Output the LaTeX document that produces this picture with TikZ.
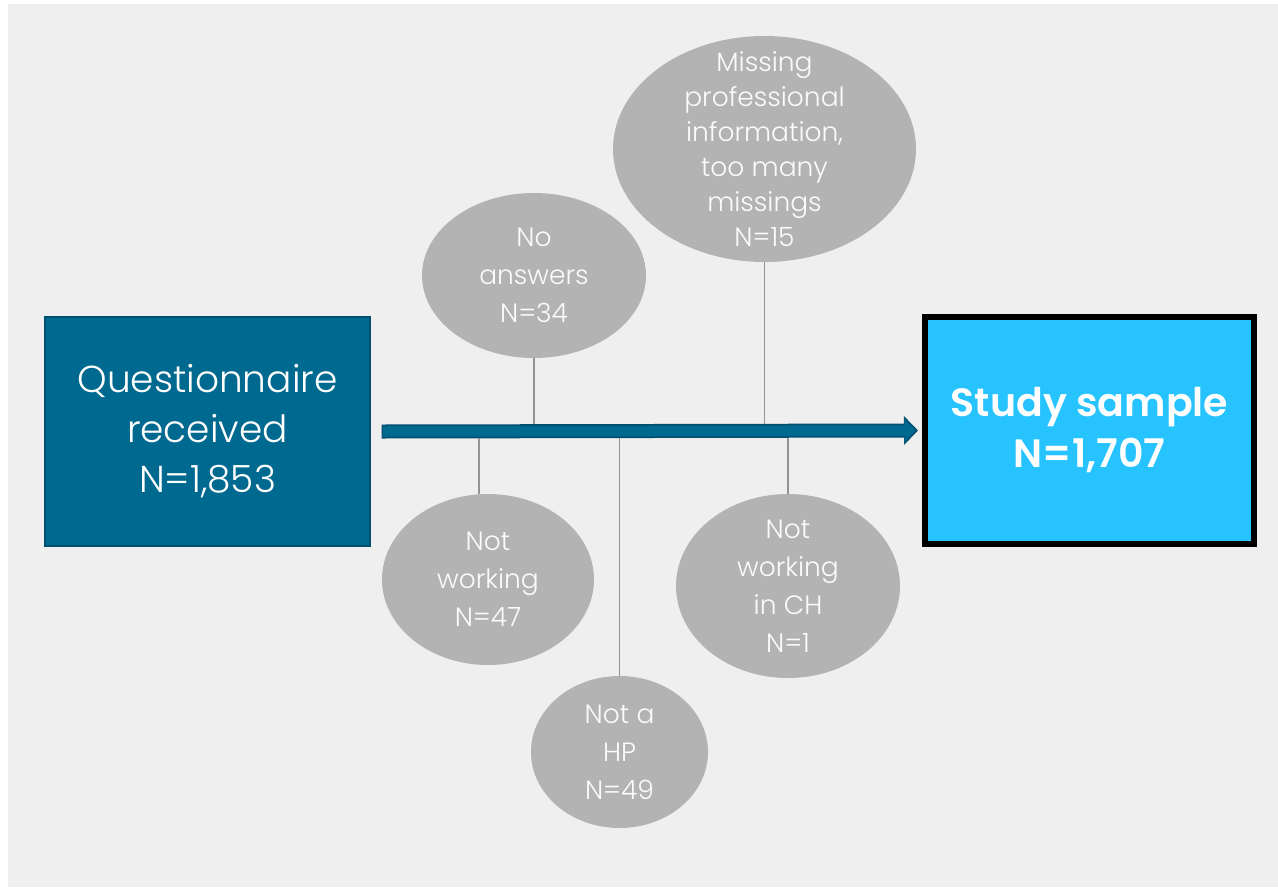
\documentclass[tikz,border=0pt]{standalone}
\usepackage{fontspec}
\setmainfont{Poppins}[UprightFont=* Light,BoldFont=* SemiBold]
\usetikzlibrary{shapes.geometric,arrows.meta}
\definecolor{bggray}{HTML}{EFEFEF}
\definecolor{qblue}{HTML}{00698F}
\definecolor{qdark}{HTML}{004F70}
\definecolor{sblue}{HTML}{27C3FF}
\definecolor{exgray}{HTML}{B3B3B3}
\definecolor{stemgray}{HTML}{939393}
\tikzset{
  exclusion/.style={ellipse,fill=exgray,inner sep=0pt},
  extext/.style={align=center,text=white!97!gray,inner sep=0pt,font=\fontsize{26.5}{38}\selectfont},
  stem/.style={stemgray,line width=1.6pt}
}
\begin{document}
\begin{tikzpicture}[x=1pt,y=-1pt]
\useasboundingbox (0,0) rectangle (1278,887);
\fill[white] (0,0) rectangle (1278,887);
\fill[bggray] (8,4) rectangle (1278,887);
\node[fill=qblue,draw=qdark,line width=1.2pt,minimum width=325pt,minimum height=229pt,align=center,
  text=white,font=\fontsize{37.5}{50}\selectfont] (qrec) at (207.5,431.5) {Questionnaire\\received\\N=1,853};
\node[fill=sblue,draw=black,line width=6pt,minimum width=329pt,minimum height=227pt,align=center,
  text=white,font=\fontsize{39.5}{51}\selectfont\bfseries] (sample) at (1089.5,430.5) {Study sample\\N=1,707};
\draw[qdark,line width=14pt,-{Triangle[length=14pt,width=28pt]}] ([xshift=11pt]qrec.east) -- ([xshift=-4pt]sample.west);
\draw[qblue,line width=10.5pt,-{Triangle[length=11pt,width=22pt]}] ([xshift=12.5pt]qrec.east) -- ([xshift=-6.5pt]sample.west);
\coordinate (arrtop) at (650,424);
\coordinate (arrbot) at (650,438);
\node[exclusion,minimum width=224pt,minimum height=165pt,label={[extext]center:{No\\answers\\N=34}}] (noans) at (534,275.5) {};
\node[exclusion,minimum width=303pt,minimum height=226pt,label={[extext,font=\fontsize{26.5}{35}\selectfont]center:{Missing\\professional\\information,\\too many\\missings\\N=15}}] (missing) at (764.5,149) {};
\node[exclusion,minimum width=212pt,minimum height=171pt,label={[extext]center:{Not\\working\\N=47}}] (notwork) at (488,579.5) {};
\node[exclusion,minimum width=177pt,minimum height=152pt,label={[extext]center:{Not a\\HP\\N=49}}] (nothp) at (619.5,752) {};
\node[exclusion,minimum width=224pt,minimum height=184pt,label={[extext]center:{Not\\working\\in CH\\N=1}}] (notch) at (788,586) {};
\draw[stem] (noans.south) -- (noans.south |- arrtop);
\draw[stem] (missing.south) -- (missing.south |- arrtop);
\draw[stem] (notwork.96) -- (notwork.96 |- arrbot);
\draw[stem] (nothp.north) -- (nothp.north |- arrbot);
\draw[stem] (notch.north) -- (notch.north |- arrbot);
\end{tikzpicture}
\end{document}
